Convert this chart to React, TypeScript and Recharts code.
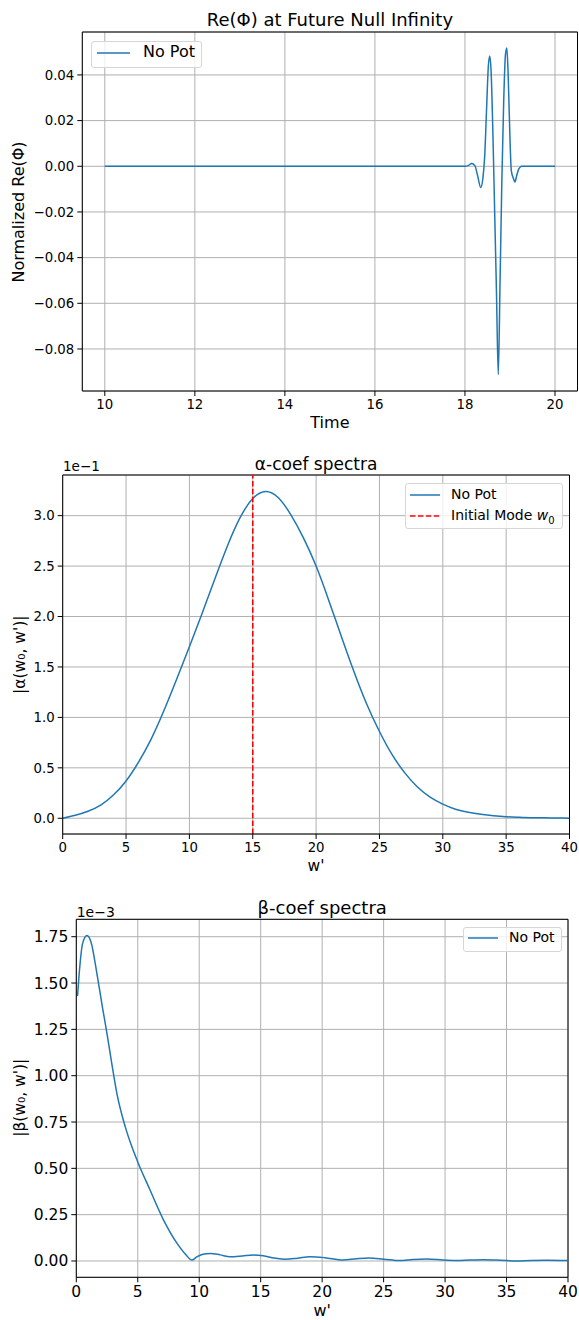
import React from "react"
import { LineChart, Line, XAxis, YAxis, CartesianGrid, ReferenceLine } from "recharts"

const FONT = '"DejaVu Sans", sans-serif'
const BLUE = "#1f77b4"
const GRID = "#b0b0b0"
const W = 579

// Re(Phi) at future null infinity
const timeVals = [10, 18.0, 18.08, 18.15, 18.22, 18.28, 18.35, 18.4, 18.44, 18.48, 18.52, 18.55, 18.58, 18.62, 18.66, 18.7, 18.74, 18.78, 18.82, 18.86, 18.9, 18.93, 18.96, 19.0, 19.03, 19.08, 19.11, 19.15, 19.2, 19.26, 20]
const rePhiVals = [0, 0, 0.0004, 0.0012, 0.0003, -0.004, -0.0093, -0.005, 0.005, 0.025, 0.044, 0.0483, 0.042, 0.015, -0.02, -0.055, -0.0912, -0.05, -0.006, 0.028, 0.049, 0.0518, 0.04, 0.012, -0.002, -0.0055, -0.0069, -0.004, -0.001, 0, 0]
const timeTicks = [10, 12, 14, 16, 18, 20]
const rePhiTicks = [-0.08, -0.06, -0.04, -0.02, 0, 0.02, 0.04]

// alpha-coefficient spectrum, in units of 1e-1
const alphaW = [0, 1, 2, 3, 4, 5, 6, 7, 8, 9, 10, 11, 12, 13, 14, 15, 16, 17, 18, 19, 20, 21, 22, 23, 24, 25, 26, 27, 28, 29, 30, 31, 32, 33, 34, 35, 36, 37, 38, 39, 40]
const alphaVals = [0.0, 0.03, 0.07, 0.13, 0.23, 0.37, 0.56, 0.79, 1.07, 1.38, 1.7, 2.03, 2.37, 2.7, 2.98, 3.17, 3.24, 3.18, 3.01, 2.78, 2.5, 2.16, 1.8, 1.45, 1.13, 0.86, 0.63, 0.45, 0.31, 0.21, 0.14, 0.09, 0.06, 0.04, 0.025, 0.015, 0.01, 0.006, 0.004, 0.002, 0.001]
const alphaTicks = [0, 0.5, 1.0, 1.5, 2.0, 2.5, 3.0]
const initialMode = 15

// beta-coefficient spectrum, in units of 1e-3
const betaW = [0.1, 0.3, 0.5, 0.87, 1.2, 1.68, 2.1, 2.49, 2.9, 3.3, 3.98, 4.5, 4.99, 6.0, 7.1, 8.2, 8.9, 9.4, 9.8, 10.3, 10.9, 11.7, 12.5, 13.5, 14.4, 15.2, 16.1, 17.0, 18.0, 19.0, 20.2, 21.7, 22.8, 23.8, 25.0, 26.3, 27.4, 28.5, 29.8, 31.0, 32.0, 33.1, 34.5, 35.8, 37.0, 38.3, 40]
const betaVals = [1.43, 1.6, 1.71, 1.756, 1.72, 1.55, 1.38, 1.23, 1.06, 0.905, 0.725, 0.62, 0.536, 0.383, 0.221, 0.095, 0.035, 0.005, 0.022, 0.036, 0.041, 0.033, 0.023, 0.027, 0.032, 0.028, 0.016, 0.009, 0.015, 0.023, 0.018, 0.005, 0.012, 0.016, 0.01, 0.002, 0.008, 0.011, 0.006, 0.002, 0.005, 0.007, 0.004, 0.0, 0.003, 0.004, 0.002]
const betaTicks = [0, 0.25, 0.5, 0.75, 1.0, 1.25, 1.5, 1.75]

const wTicks = [0, 5, 10, 15, 20, 25, 30, 35, 40]

const zip = (xs: number[], ys: number[]) => xs.map((x, i) => ({ x, y: ys[i] }))
const minus = (s: string) => s.replace("-", "\u2212")

type PanelProps = {
  top: number
  height: number
  data: { x: number; y: number }[]
  margin: { top: number; right: number; bottom: number }
  yWidth: number
  xDomain: [number, number]
  xTicks: number[]
  yDomain: [number, number]
  yTicks: number[]
  xFmt: (v: number) => string
  yFmt: (v: number) => string
  font: number
  children?: React.ReactNode
}

function Panel(p: PanelProps) {
  const tick = { fill: "#000", fontSize: p.font, fontFamily: FONT }
  return (
    <div style={{ position: "absolute", left: 0, top: p.top, width: W, height: p.height }}>
      <LineChart width={W} height={p.height} data={p.data} margin={{ ...p.margin, left: 0 }}>
        <CartesianGrid stroke={GRID} strokeWidth={1} />
        <XAxis dataKey="x" type="number" domain={p.xDomain} ticks={p.xTicks} interval={0} allowDataOverflow
          tickFormatter={p.xFmt} tick={tick} tickSize={5} tickMargin={4} height={30}
          axisLine={{ stroke: "#000" }} tickLine={{ stroke: "#000" }} />
        <YAxis type="number" domain={p.yDomain} ticks={p.yTicks} interval={0} allowDataOverflow
          tickFormatter={p.yFmt} tick={tick} tickSize={5} tickMargin={3} width={p.yWidth}
          axisLine={{ stroke: "#000" }} tickLine={{ stroke: "#000" }} />
        {/* top and right spines */}
        <ReferenceLine y={p.yDomain[1]} stroke="#000" strokeWidth={1} ifOverflow="extendDomain" />
        <ReferenceLine x={p.xDomain[1]} stroke="#000" strokeWidth={1} ifOverflow="extendDomain" />
        {p.children}
      </LineChart>
    </div>
  )
}

// text placed by its baseline
function Txt({ x, y, size, children, center = false }: { x: number; y: number; size: number; children: React.ReactNode; center?: boolean }) {
  const w = 400
  return (
    <div style={{
      position: "absolute", left: center ? x - w / 2 : x, top: y - 0.846 * size, width: w,
      textAlign: center ? "center" : "left", fontSize: size, lineHeight: `${size}px`,
      fontFamily: FONT, color: "#000", whiteSpace: "nowrap",
    }}>{children}</div>
  )
}

function VTxt({ x, y, size, children }: { x: number; y: number; size: number; children: React.ReactNode }) {
  const w = 300
  const cx = x - 0.346 * size
  return (
    <div style={{
      position: "absolute", left: cx - w / 2, top: y - size / 2, width: w, height: size,
      textAlign: "center", fontSize: size, lineHeight: `${size}px`, fontFamily: FONT,
      color: "#000", whiteSpace: "nowrap", transform: "rotate(-90deg)",
    }}>{children}</div>
  )
}

type LegendItem = { label: React.ReactNode; color: string; dashed?: boolean; cy: number }

function LegendBox({ left, top, width, height, items, size, sx, sw, tx }: {
  left: number; top: number; width: number; height: number; items: LegendItem[]
  size: number; sx: number; sw: number; tx: number
}) {
  return (
    <>
      <div style={{
        position: "absolute", left, top, width, height, boxSizing: "border-box",
        border: "1px solid #d6d6d6", borderRadius: 3, background: "rgba(255,255,255,0.8)",
      }} />
      {items.map((it, i) => (
        <React.Fragment key={i}>
          <svg style={{ position: "absolute", left: sx, top: it.cy - 2 }} width={sw} height={4}>
            <line x1={0} x2={sw} y1={2} y2={2} stroke={it.color} strokeWidth={1.5}
              strokeDasharray={it.dashed ? "5.5 2.4" : undefined} />
          </svg>
          <div style={{
            position: "absolute", left: tx, top: it.cy - size / 2 - 1, fontSize: size,
            lineHeight: `${size}px`, fontFamily: FONT, whiteSpace: "nowrap",
          }}>{it.label}</div>
        </React.Fragment>
      ))}
    </>
  )
}

export default function App() {
  const phiData = zip(timeVals, rePhiVals)
  const alphaData = zip(alphaW, alphaVals)
  const betaData = zip(betaW, betaVals)

  return (
    <div style={{ position: "absolute", left: 0, top: 0, width: W, height: 1320, background: "#fff" }}>
      <Panel top={0} height={440} data={phiData} margin={{ top: 32, right: 1.5, bottom: 19 }} yWidth={82.3}
        xDomain={[9.5, 20.5]} xTicks={timeTicks} yDomain={[-0.0984, 0.0588]} yTicks={rePhiTicks}
        xFmt={(v) => String(v)} yFmt={(v) => minus(v.toFixed(2))} font={13.3}>
        <Line dataKey="y" type="monotone" stroke={BLUE} strokeWidth={1.5} dot={false} isAnimationActive={false} />
      </Panel>

      <Panel top={440} height={440} data={alphaData} margin={{ top: 35, right: 9.5, bottom: 16 }} yWidth={62.7}
        xDomain={[0, 40]} xTicks={wTicks} yDomain={[-0.156, 3.403]} yTicks={alphaTicks}
        xFmt={(v) => String(v)} yFmt={(v) => v.toFixed(1)} font={13.3}>
        <Line dataKey="y" type="natural" stroke={BLUE} strokeWidth={1.5} dot={false} isAnimationActive={false} />
        <ReferenceLine x={initialMode} stroke="#ff0000" strokeWidth={1.5} strokeDasharray="5.5 2.4" />
      </Panel>

      <Panel top={880} height={440} data={betaData} margin={{ top: 39.3, right: 11, bottom: 12.7 }} yWidth={76.3}
        xDomain={[0, 40]} xTicks={wTicks} yDomain={[-0.088, 1.844]} yTicks={betaTicks}
        xFmt={(v) => String(v)} yFmt={(v) => v.toFixed(2)} font={15.5}>
        <Line dataKey="y" type="monotone" stroke={BLUE} strokeWidth={1.5} dot={false} isAnimationActive={false} />
      </Panel>

      {/* panel 1 texts */}
      <Txt x={329.9} y={26.7} size={18} center>Re(Φ) at Future Null Infinity</Txt>
      <Txt x={329.9} y={429} size={16} center>Time</Txt>
      <VTxt x={25} y={211.5} size={16}>Normalized Re(Φ)</VTxt>
      <LegendBox left={90.7} top={40.7} width={111.3} height={27.3} size={16} sx={96.7} sw={33.3} tx={143}
        items={[{ label: "No Pot", color: BLUE, cy: 53.3 }]} />

      {/* panel 2 texts */}
      <Txt x={316.1} y={470.7} size={17} center>α-coef spectra</Txt>
      <Txt x={63} y={471.7} size={13.5}>1e−1</Txt>
      <Txt x={316.1} y={871.7} size={15.5} center>w'</Txt>
      <VTxt x={26} y={654.5} size={15.5}>|α(w₀, w')|</VTxt>
      <LegendBox left={405} top={482.7} width={157.7} height={46.6} size={14} sx={410} sw={30} tx={451}
        items={[
          { label: "No Pot", color: BLUE, cy: 495 },
          { label: <span>Initial Mode <i>w</i><sub style={{ fontSize: 10 }}>0</sub></span>, color: "#ff0000", dashed: true, cy: 516 },
        ]} />

      {/* panel 3 texts */}
      <Txt x={322.2} y={914} size={18} center>β-coef spectra</Txt>
      <Txt x={76.7} y={916.7} size={14}>1e−3</Txt>
      <Txt x={322.2} y={1316.7} size={16} center>w'</Txt>
      <VTxt x={26} y={1098} size={15.5}>|β(w₀, w')|</VTxt>
      <LegendBox left={463.3} top={926.7} width={98.4} height={25} size={14} sx={468.3} sw={30} tx={509}
        items={[{ label: "No Pot", color: BLUE, cy: 938.3 }]} />
    </div>
  )
}
